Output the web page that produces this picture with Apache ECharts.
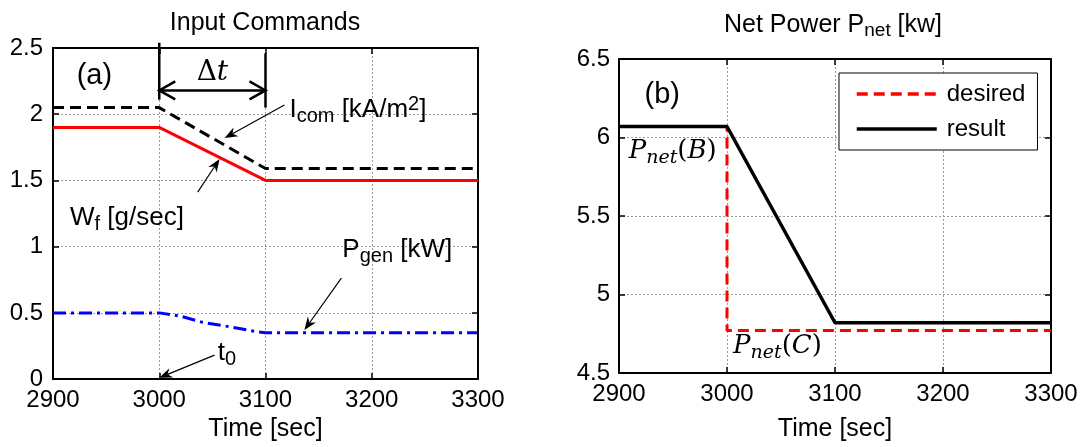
<!DOCTYPE html>
<html><head><meta charset="utf-8">
<script src="https://cdn.jsdelivr.net/npm/echarts@6/dist/echarts.min.js"></script>
<style>html,body{margin:0;padding:0;background:#fff}#c{width:1086px;height:447px}</style>
</head><body><div id="c"></div>
<script>
// ---------- data ----------
const timeCom = [2900, 3000, 3100, 3300];
const iCom = [2.05, 2.05, 1.59, 1.59];
const wF = [1.9, 1.9, 1.5, 1.5];
const timeGen = [2900, 3000, 3020, 3040, 3070, 3090, 3100, 3300];
const pGen = [0.5, 0.5, 0.475, 0.43, 0.39, 0.36, 0.35, 0.35];
const timeDesired = [2900, 3000, 3000, 3300];
const pNetDesired = [6.07, 6.07, 4.77, 4.77];
const timeResult = [2900, 3000, 3100, 3300];
const pNetResult = [6.07, 6.07, 4.82, 4.82];
const legendNames = ['desired', 'result'];
const titleA = 'Input Commands';
const axisNameX = 'Time [sec]';

function zip(a, b) { return a.map((v, i) => [v, b[i]]); }

const FONT = 'Liberation Sans';
const SERIF = 'DejaVu Serif';
const axLine = {show: true, onZero: false, lineStyle: {color: '#000', width: 2}};
const tick = {show: true, inside: true, length: 6, lineStyle: {color: '#000', width: 1.5}};
const gridLine = {show: true, lineStyle: {color: '#9a9a9a', width: 1, type: [2, 2]}};

function mkX(gi, pos, margin, nameGap) {
  const main = pos === 'bottom';
  return {
    type: 'value', gridIndex: gi, position: pos, min: 2900, max: 3300, interval: 100,
    axisLine: axLine, axisTick: tick,
    axisLabel: {show: main, color: '#000', fontFamily: FONT, fontSize: 24, margin: margin,
      formatter: v => String(v)},
    splitLine: main ? gridLine : {show: false},
    name: main ? axisNameX : '', nameLocation: 'middle', nameGap: nameGap,
    nameTextStyle: {color: '#000', fontFamily: FONT, fontSize: 25}
  };
}
function mkY(gi, pos, min, max, margin) {
  const main = pos === 'left';
  return {
    type: 'value', gridIndex: gi, position: pos, min: min, max: max, interval: 0.5,
    axisLine: axLine, axisTick: tick,
    axisLabel: {show: main, color: '#000', fontFamily: FONT, fontSize: 24, margin: margin},
    splitLine: main ? gridLine : {show: false}
  };
}

const chart = echarts.init(document.getElementById('c'));
chart.setOption({
  animation: false,
  backgroundColor: '#fff',
  grid: [
    {left: 53, top: 48, width: 425, height: 332},
    {left: 619, top: 59, width: 432, height: 316}
  ],
  xAxis: [mkX(0, 'bottom', 9, 28), mkX(1, 'bottom', 9, 44), mkX(0, 'top'), mkX(1, 'top')],
  yAxis: [mkY(0, 'left', 0, 2.5, 10), mkY(1, 'left', 4.5, 6.5, 9), mkY(0, 'right', 0, 2.5), mkY(1, 'right', 4.5, 6.5)],
  legend: {
    data: legendNames, orient: 'vertical', left: 839, top: 73, selectedMode: false,
    backgroundColor: '#fff', borderColor: '#000', borderWidth: 1, borderRadius: 0,
    padding: [9, 12, 9, 16], itemWidth: 80, itemHeight: 14, itemGap: 11,
    itemStyle: {opacity: 0},
    lineStyle: {width: 3.5},
    textStyle: {color: '#000', fontFamily: FONT, fontSize: 24, padding: [0, 0, 0, 5]}
  },
  series: [
    {type: 'line', name: 'I_com', xAxisIndex: 0, yAxisIndex: 0, data: zip(timeCom, iCom), symbol: 'none',
      color: '#000', lineStyle: {color: '#000', width: 3, type: [11, 6]}},
    {type: 'line', name: 'W_f', xAxisIndex: 0, yAxisIndex: 0, data: zip(timeCom, wF), symbol: 'none',
      color: '#ff0000', lineStyle: {color: '#ff0000', width: 3}},
    {type: 'line', name: 'P_gen', xAxisIndex: 0, yAxisIndex: 0, data: zip(timeGen, pGen), symbol: 'none',
      color: '#0000ff', lineStyle: {color: '#0000ff', width: 3, type: [13, 5, 3, 5]}},
    {type: 'line', name: 'desired', xAxisIndex: 1, yAxisIndex: 1, data: zip(timeDesired, pNetDesired), symbol: 'none',
      color: '#ff0000', itemStyle: {color: '#ff0000'}, lineStyle: {color: '#ff0000', width: 3, type: [11, 6]}},
    {type: 'line', name: 'result', xAxisIndex: 1, yAxisIndex: 1, data: zip(timeResult, pNetResult), symbol: 'none',
      color: '#000', itemStyle: {color: '#000'}, lineStyle: {color: '#000', width: 3.5}}
  ]
});

// ---------- annotations ----------
function pa(p) { return chart.convertToPixel({xAxisIndex: 0, yAxisIndex: 0}, p); }
function pb(p) { return chart.convertToPixel({xAxisIndex: 1, yAxisIndex: 1}, p); }

const RICH = {
  t: {fontFamily: FONT, fontSize: 25, lineHeight: 30, verticalAlign: 'middle', fill: '#000'},
  ts: {fontFamily: FONT, fontSize: 19, lineHeight: 12, verticalAlign: 'bottom', fill: '#000'},
  m: {fontFamily: FONT, fontSize: 26, lineHeight: 32, verticalAlign: 'middle', fill: '#000'},
  s: {fontFamily: FONT, fontSize: 20, lineHeight: 14, verticalAlign: 'bottom', fill: '#000'},
  u: {fontFamily: FONT, fontSize: 20, lineHeight: 14, verticalAlign: 'top', fill: '#000'},
  big: {fontFamily: FONT, fontSize: 29, lineHeight: 34, verticalAlign: 'middle', fill: '#000'},
  mi: {fontFamily: SERIF, fontStyle: 'italic', fontSize: 26, lineHeight: 32, verticalAlign: 'middle', fill: '#000'},
  mu: {fontFamily: SERIF, fontSize: 26, lineHeight: 32, verticalAlign: 'middle', fill: '#000'},
  ms: {fontFamily: SERIF, fontStyle: 'italic', fontSize: 19, lineHeight: 8, verticalAlign: 'bottom', fill: '#000'},
  dU: {fontFamily: SERIF, fontSize: 28, lineHeight: 34, verticalAlign: 'middle', fill: '#000'},
  dI: {fontFamily: SERIF, fontStyle: 'italic', fontSize: 28, lineHeight: 34, verticalAlign: 'middle', fill: '#000'}
};
function txt(p, text, align) {
  return {type: 'text', x: p[0], y: p[1], silent: true, z: 100,
    style: {text: text, rich: RICH, align: align || 'left', verticalAlign: 'middle'}};
}
function arrow(a, b, hl, hw, notch, lw) {
  const dx = b[0] - a[0], dy = b[1] - a[1], L = Math.hypot(dx, dy);
  const ux = dx / L, uy = dy / L, nx = -uy, ny = ux;
  const bx = b[0] - ux * hl, by = b[1] - uy * hl;
  const mx = b[0] - ux * (hl - notch), my = b[1] - uy * (hl - notch);
  return [
    {type: 'line', silent: true, z: 100, shape: {x1: a[0], y1: a[1], x2: mx, y2: my}, style: {stroke: '#000', lineWidth: lw}},
    {type: 'polygon', silent: true, z: 100, shape: {points: [[b[0], b[1]], [bx + nx * hw, by + ny * hw], [mx, my], [bx - nx * hw, by - ny * hw]]}, style: {fill: '#000'}}
  ];
}
function vHead(tip, dir) {
  return {type: 'polyline', silent: true, z: 100,
    shape: {points: [[tip[0] - dir * 16, tip[1] - 9], [tip[0], tip[1]], [tip[0] - dir * 16, tip[1] + 9]]},
    style: {stroke: '#000', lineWidth: 2.5, fill: null}};
}
function seg(a, b, lw) {
  return {type: 'line', silent: true, z: 100, shape: {x1: a[0], y1: a[1], x2: b[0], y2: b[1]}, style: {stroke: '#000', lineWidth: lw}};
}

const els = [];
// titles
els.push(txt([265, 23], '{t|' + titleA + '}', 'center'));
els.push(txt([833, 25], '{t|Net Power P}{ts|net}{t| [kw]}', 'center'));
// panel (a)
els.push(txt(pa([2939, 2.29]), '{big|(a)}', 'center'));
// delta t
els.push(seg(pa([3000, 2.54]), pa([3000, 2.11]), 2.5), seg(pa([3100, 2.46]), pa([3100, 2.05]), 2.5));
const ar1 = pa([3000, 2.18]), ar2 = pa([3100, 2.18]);
els.push(seg(ar1, ar2, 2.5), vHead(ar1, -1), vHead(ar2, 1));
els.push(txt(pa([3050, 2.31]), '{dU|Δ}{dI|t}', 'center'));
// I_com
els.push(txt(pa([3122.5, 2.03]), '{m|I}{s|com}{m| [kA/m}{u|2}{m|]}'));
els.push(...arrow(pa([3117.8, 2.07]), pa([3061.5, 1.82]), 13, 5, 4, 1.2));
// W_f
els.push(txt(pa([2916, 1.216]), '{m|W}{s|f}{m| [g/sec]}'));
els.push(...arrow(pa([3036.2, 1.412]), pa([3056.8, 1.662]), 13, 5, 4, 1.2));
// P_gen
els.push(txt(pa([3172.3, 0.974]), '{m|P}{s|gen}{m| [kW]}'));
els.push(...arrow(pa([3171.4, 0.763]), pa([3136.6, 0.37]), 13, 5, 4, 1.2));
// t0
els.push(txt(pa([3055, 0.196]), '{m|t}{s|0}'));
els.push(...arrow(pa([3052, 0.181]), pa([3000, 0.01]), 13, 5, 4, 1.2));
// panel (b)
els.push(txt(pb([2940, 6.27]), '{big|(b)}', 'center'));
els.push(txt(pb([2909, 5.91]), '{mi|P}{ms|net}{mu|(}{mi|B}{mu|)}'));
els.push(txt(pb([3005.6, 4.67]), '{mi|P}{ms|net}{mu|(}{mi|C}{mu|)}'));

chart.setOption({graphic: els});
</script>
</body></html>
